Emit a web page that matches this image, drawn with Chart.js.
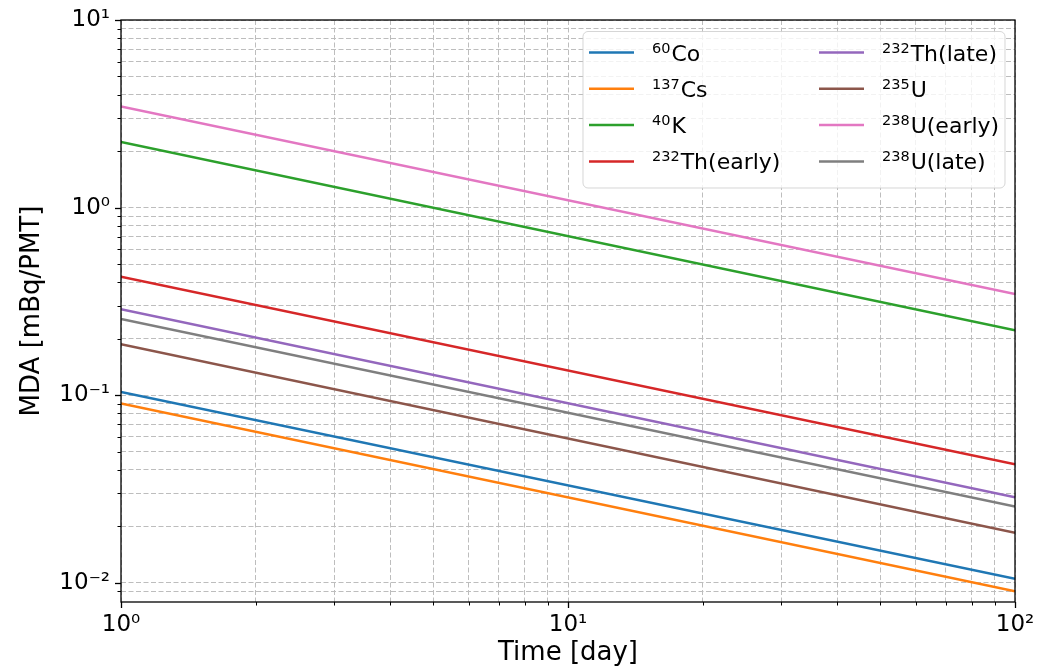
<!DOCTYPE html>
<html>
<head>
<meta charset="utf-8">
<title>MDA vs time</title>
<script src="https://cdn.jsdelivr.net/npm/chart.js@4/dist/chart.umd.min.js"></script>
<style>
  body { margin: 0; background: #fff; }
  canvas { display: block; }
</style>
</head>
<body>
<canvas id="mdaChart" width="1060" height="669"></canvas>
<script>
// values (MDA in mBq/PMT at day 1 and day 100)
const days = [1, 100];
const massNumbers = ["60", "137", "40", "232", "232", "235", "238", "238"];
const isotopes = ["Co", "Cs", "K", "Th(early)", "Th(late)", "U", "U(early)", "U(late)"];
const co60 = [0.104, 0.0105];
const cs137 = [0.0903, 0.00902];
const k40 = [2.24, 0.222];
const th232Early = [0.428, 0.0428];
const th232Late = [0.287, 0.0286];
const u235 = [0.187, 0.0185];
const u238Early = [3.46, 0.346];
const u238Late = [0.255, 0.0255];
const xTickValues = [1, 2, 3, 4, 5, 6, 7, 8, 9, 10, 20, 30, 40, 50, 60, 70, 80, 90, 100];
const yTickValues = [0.009, 0.01, 0.02, 0.03, 0.04, 0.05, 0.06, 0.07, 0.08, 0.09,
  0.1, 0.2, 0.3, 0.4, 0.5, 0.6, 0.7, 0.8, 0.9, 1, 2, 3, 4, 5, 6, 7, 8, 9, 10];

const series = [co60, cs137, k40, th232Early, th232Late, u235, u238Early, u238Late];
const colors = ["#1f77b4", "#ff7f0e", "#2ca02c", "#d62728", "#9467bd", "#8c564b", "#e377c2", "#7f7f7f"];

const FONT = "'DejaVu Sans', sans-serif";
const supMap = {"0": "⁰", "1": "¹", "2": "²", "3": "³", "4": "⁴", "5": "⁵",
  "6": "⁶", "7": "⁷", "8": "⁸", "9": "⁹", "-": "⁻"};
const toSup = s => s.split("").map(c => supMap[c]).join("");

function isDecade(v) {
  const e = Math.log10(v);
  return Math.abs(e - Math.round(e)) < 1e-6;
}

function decadeLabel(value) {
  if (!isDecade(value)) return "";
  return "10" + toSup(String(Math.round(Math.log10(value))));
}

const datasets = series.map((vals, i) => ({
  label: toSup(massNumbers[i]) + isotopes[i],
  data: days.map((d, j) => ({ x: d, y: vals[j] })),
  borderColor: colors[i],
  backgroundColor: colors[i],
  borderWidth: 2.5,
  pointRadius: 0,
  fill: false,
  order: series.length - i
}));

// black box round the axes plus outward tick marks (left and bottom only)
const frameTicks = {
  id: "frameTicks",
  afterDraw(chart) {
    const { ctx, chartArea: a, scales } = chart;
    ctx.save();
    ctx.strokeStyle = "#000";
    scales.x.ticks.forEach(t => {
      const px = Math.round(scales.x.getPixelForValue(t.value)) + 0.5;
      const major = isDecade(t.value);
      ctx.lineWidth = major ? 1.3 : 1;
      ctx.beginPath();
      ctx.moveTo(px, a.bottom);
      ctx.lineTo(px, a.bottom + (major ? 6 : 3.5));
      ctx.stroke();
    });
    scales.y.ticks.forEach(t => {
      const py = Math.round(scales.y.getPixelForValue(t.value)) + 0.5;
      const major = isDecade(t.value);
      ctx.lineWidth = major ? 1.3 : 1;
      ctx.beginPath();
      ctx.moveTo(a.left, py);
      ctx.lineTo(a.left - (major ? 6 : 3.5), py);
      ctx.stroke();
    });
    ctx.lineWidth = 1.3;
    ctx.strokeRect(a.left, a.top, a.right - a.left, a.bottom - a.top);
    ctx.restore();
  }
};

// two-column legend in the upper right, mass number as superscript
const isoLegend = {
  id: "isoLegend",
  afterDraw(chart) {
    const { ctx, chartArea: a } = chart;
    const bx = a.right - 432, by = a.top + 11.5, bw = 422, bh = 156.5;
    ctx.save();
    ctx.beginPath();
    ctx.roundRect(bx, by, bw, bh, 5);
    ctx.fillStyle = "rgba(255,255,255,0.8)";
    ctx.fill();
    ctx.strokeStyle = "rgba(204,204,204,0.8)";
    ctx.lineWidth = 1;
    ctx.stroke();

    chart.data.datasets.forEach((ds, i) => {
      const col = Math.floor(i / 4), row = i % 4;
      const lx = bx + 6 + col * 230;
      const ly = by + 21 + row * 36.3;
      ctx.strokeStyle = ds.borderColor;
      ctx.lineWidth = 2.5;
      ctx.beginPath();
      ctx.moveTo(lx, ly);
      ctx.lineTo(lx + 45, ly);
      ctx.stroke();

      const base = ly + 8;
      ctx.fillStyle = "#000";
      ctx.textBaseline = "alphabetic";
      ctx.textAlign = "left";
      ctx.font = "14.5px " + FONT;
      const tx = lx + 63;
      ctx.fillText(massNumbers[i], tx, base - 8);
      const w = ctx.measureText(massNumbers[i]).width;
      ctx.font = "22px " + FONT;
      ctx.fillText(isotopes[i], tx + w + 1, base);
    });
    ctx.restore();
  }
};

// keep the plot box where the reference has it, whatever the edge labels need
function noEdgePadding(scale) {
  scale.paddingTop = 0;
  scale.paddingBottom = 0;
  scale.paddingLeft = 0;
  scale.paddingRight = 0;
}

const ctx = document.getElementById("mdaChart").getContext("2d");
new Chart(ctx, {
  type: "line",
  data: { datasets },
  options: {
    responsive: false,
    animation: false,
    devicePixelRatio: 1,
    layout: { padding: { top: 20, right: 45, bottom: 0, left: 0 } },
    plugins: {
      legend: { display: false },
      tooltip: { enabled: false }
    },
    scales: {
      x: {
        type: "logarithmic",
        min: 1,
        max: 100,
        afterBuildTicks: scale => { scale.ticks = xTickValues.map(v => ({ value: v })); },
        afterFit: scale => { scale.height = 67; noEdgePadding(scale); },
        grid: { color: "#bdbdbd", lineWidth: 1, drawTicks: false },
        border: { display: false, dash: [5, 2.5] },
        ticks: {
          autoSkip: false, maxRotation: 0, padding: 9, color: "#000",
          font: { family: FONT, size: 23 },
          callback: value => decadeLabel(value)
        },
        title: {
          display: true, text: "Time [day]", color: "#000",
          font: { family: FONT, size: 26 }, padding: { top: 0, bottom: 0 }
        }
      },
      y: {
        type: "logarithmic",
        min: 0.0079,
        max: 10,
        afterBuildTicks: scale => { scale.ticks = yTickValues.map(v => ({ value: v })); },
        afterFit: scale => { scale.width = 121; noEdgePadding(scale); },
        grid: { color: "#bdbdbd", lineWidth: 1, drawTicks: false },
        border: { display: false, dash: [5, 2.5] },
        ticks: {
          autoSkip: false, padding: 11, color: "#000",
          font: { family: FONT, size: 23 },
          callback: value => decadeLabel(value)
        },
        title: {
          display: true, text: "MDA [mBq/PMT]", color: "#000",
          font: { family: FONT, size: 26 }, padding: { top: 17, bottom: 0 }
        }
      }
    }
  },
  plugins: [frameTicks, isoLegend]
});
</script>
</body>
</html>
